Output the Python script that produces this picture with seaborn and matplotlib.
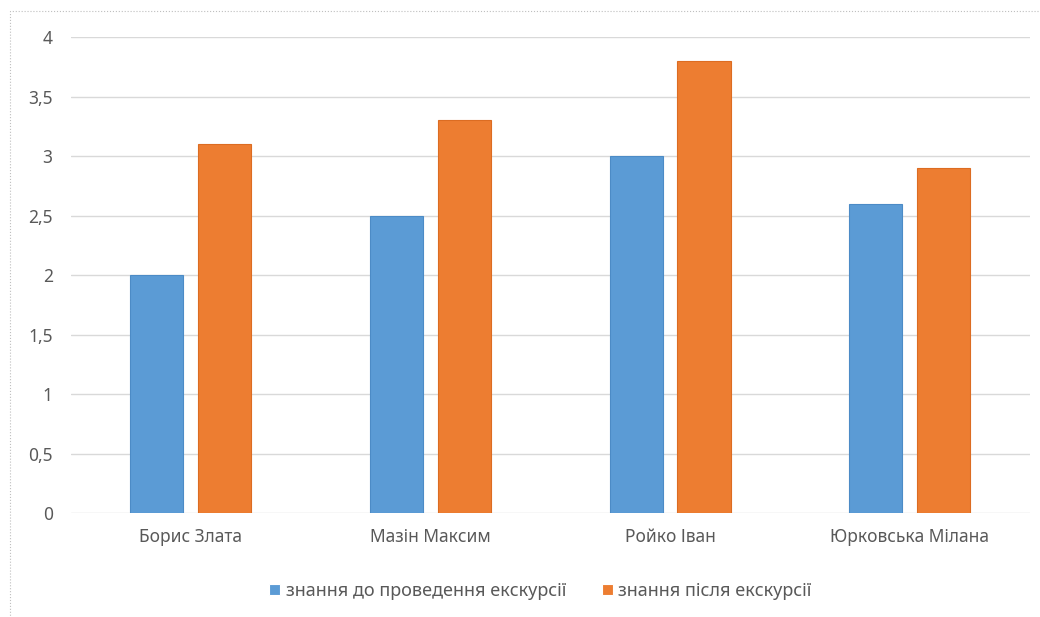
import numpy as np
import pandas as pd
import matplotlib.pyplot as plt
import matplotlib.ticker as mticker
from matplotlib.patches import Rectangle
import seaborn as sns

sns.set_theme(style="white")
plt.rcParams["font.family"] = ["Noto Sans", "DejaVu Sans"]

STUDENTS = ["Борис Злата", "Мазін Максим", "Ройко Іван", "Юрковська Мілана"]
BEFORE = [2.0, 2.5, 3.0, 2.6]
AFTER = [3.1, 3.3, 3.8, 2.9]
SERIES = ["знання до проведення екскурсії", "знання після екскурсії"]
COLORS = {SERIES[0]: "#5B9BD5", SERIES[1]: "#ED7D31"}
EDGES = {SERIES[0]: "#4C8BC6", SERIES[1]: "#DC6C22"}
Y_TICKS = [0, 0.5, 1, 1.5, 2, 2.5, 3, 3.5, 4]

df = pd.DataFrame({
    "student": STUDENTS * 2,
    "value": BEFORE + AFTER,
    "series": [SERIES[0]] * len(STUDENTS) + [SERIES[1]] * len(STUDENTS),
})

fig = plt.figure(figsize=(10.4, 6.17), dpi=100)
ax = fig.add_axes([0.068, 0.1685, 0.922, 0.7715])

sns.barplot(data=df, x="student", y="value", hue="series",
            order=STUDENTS, hue_order=SERIES, palette=COLORS, saturation=1,
            width=0.567, gap=0.22, errorbar=None, ax=ax,
            linewidth=0.8, zorder=3)
edge_list = [EDGES[SERIES[0]]] * len(STUDENTS) + [EDGES[SERIES[1]]] * len(STUDENTS)
for bar, ec in zip(ax.patches, edge_list):
    bar.set_edgecolor(ec)

ax.set_ylim(0, 4)
ax.set_yticks(Y_TICKS)
ax.yaxis.set_major_formatter(mticker.FuncFormatter(
    lambda v, _: (f"{v:g}").replace(".", ",")))
ax.grid(axis="y", color="#D9D9D9", linewidth=1.0, zorder=0)
ax.set_axisbelow(True)
for s in ax.spines.values():
    s.set_visible(False)
ax.tick_params(axis="both", length=0, labelsize=12.5, labelcolor="#595959")
ax.tick_params(axis="y", pad=13)
ax.tick_params(axis="x", pad=11)
ax.set_xlabel("")
ax.set_ylabel("")

leg = ax.legend(loc="upper center", bbox_to_anchor=(0.49, -0.11), ncol=2, frameon=False,
                fontsize=13, labelcolor="#595959", handlelength=0.6, handleheight=0.6,
                handletextpad=0.3, columnspacing=2.0)

fig.patches.append(Rectangle((10 / 1040, -0.05), 1.0, 1 - 11 / 617 + 0.05,
                             transform=fig.transFigure, fill=False,
                             edgecolor="#BFBFBF", linewidth=0.8, linestyle=":"))

fig.savefig("out.png", dpi=100)
